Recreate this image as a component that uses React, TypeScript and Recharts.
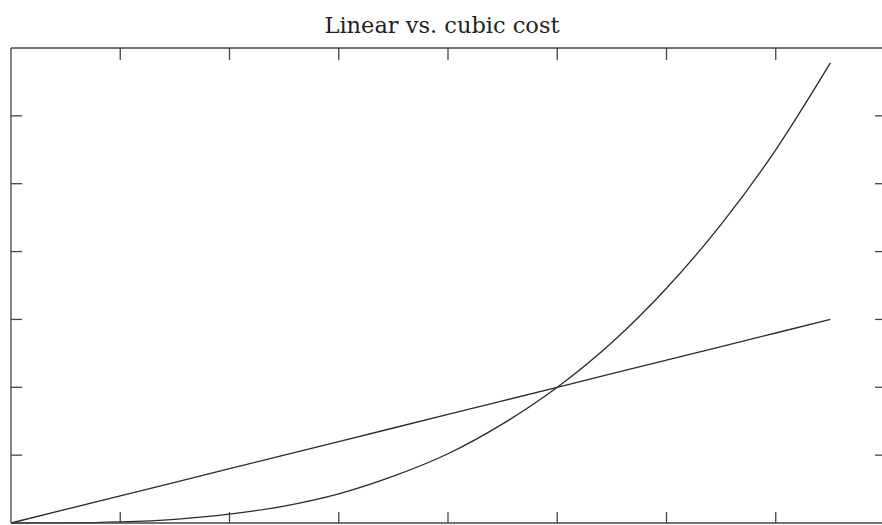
import * as React from 'react';
import { LineChart, Line, XAxis, YAxis } from 'recharts';

// values
const xValues = [0, 0.5, 1, 1.5, 2, 2.5, 3, 3.5, 4, 4.5, 5, 5.5, 6, 6.5, 7, 7.5];
const linearCost = [0, 0.2, 0.4, 0.6, 0.8, 1.0, 1.2, 1.4, 1.6, 1.8, 2.0, 2.2, 2.4, 2.6, 2.8, 3.0];
const cubicCost = [0, 0.002, 0.016, 0.054, 0.13, 0.25, 0.43, 0.69, 1.02, 1.46, 2.0, 2.66, 3.46, 4.4, 5.5, 6.78];
const xTicks = [1, 2, 3, 4, 5, 6, 7];
const yTicks = [1, 2, 3, 4, 5, 6];

const data = xValues.map((x, i) => ({ x, linear: linearCost[i], cubic: cubicCost[i] }));

const ink = '#2a2a2a';
const axisLine = { stroke: '#444', strokeWidth: 1.3 };
const tickLine = { stroke: '#444', strokeWidth: 1.3 };
const noLabel = () => <g />;

export default function App() {
    return (
        <div style={{ position: 'absolute', left: 0, top: 0, width: 882, height: 525, overflow: 'hidden', background: '#fff' }}>
            <div
                style={{
                    position: 'absolute',
                    left: 0,
                    width: 884,
                    top: 11,
                    textAlign: 'center',
                    fontFamily: '"DejaVu Serif", serif',
                    fontSize: 22.5,
                    lineHeight: '28px',
                    color: '#222',
                }}
            >
                Linear vs. cubic cost
            </div>
            <LineChart
                width={900}
                height={525}
                data={data}
                margin={{ top: 48, left: 11, right: 15, bottom: 2 }}
                style={{ position: 'absolute', left: 0, top: 0 }}
            >
                <XAxis xAxisId="bottom" dataKey="x" type="number" domain={[0, 8]} ticks={xTicks} interval={0}
                    orientation="bottom" height={1} mirror tick={noLabel} tickSize={11}
                    axisLine={axisLine} tickLine={tickLine} />
                <XAxis xAxisId="top" dataKey="x" type="number" domain={[0, 8]} ticks={xTicks} interval={0}
                    orientation="top" height={1} mirror tick={noLabel} tickSize={12}
                    axisLine={axisLine} tickLine={tickLine} />
                <YAxis yAxisId="left" dataKey="linear" type="number" domain={[0, 7]} ticks={yTicks} interval={0}
                    orientation="left" width={1} mirror tick={noLabel} tickSize={11}
                    axisLine={axisLine} tickLine={tickLine} />
                <YAxis yAxisId="right" dataKey="linear" type="number" domain={[0, 7]} ticks={yTicks} interval={0}
                    orientation="right" width={1} mirror tick={noLabel} tickSize={10}
                    axisLine={axisLine} tickLine={tickLine} />
                <Line xAxisId="bottom" yAxisId="left" dataKey="linear" type="linear"
                    stroke={ink} strokeWidth={1.3} dot={false} isAnimationActive={false} />
                <Line xAxisId="bottom" yAxisId="left" dataKey="cubic" type="monotone"
                    stroke={ink} strokeWidth={1.3} dot={false} isAnimationActive={false} />
            </LineChart>
        </div>
    );
}
